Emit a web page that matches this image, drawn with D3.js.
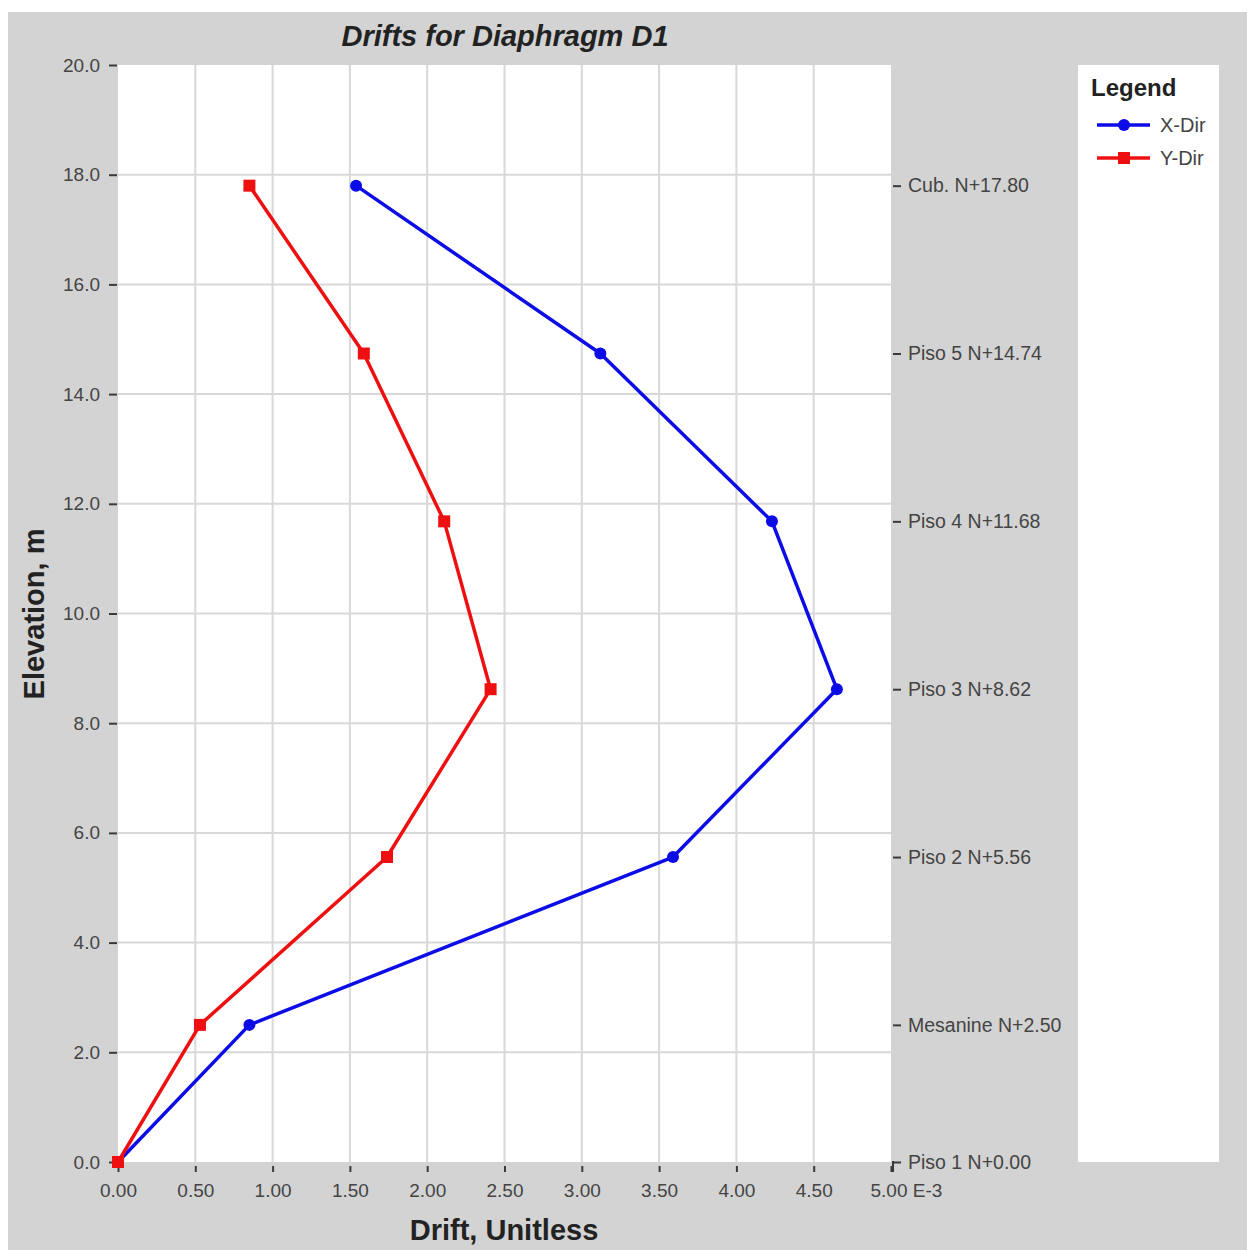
<!DOCTYPE html>
<html>
<head>
<meta charset="utf-8">
<script src="https://cdn.jsdelivr.net/npm/d3@7"></script>
<style>
  html, body { margin: 0; padding: 0; background: #ffffff; }
  svg { display: block; font-family: "Liberation Sans", Arial, sans-serif; }
</style>
</head>
<body>
<svg id="chart" width="1251" height="1250"></svg>
<script>
// Story elevations (m) and their names on the right axis
const elevations = [0.00, 2.50, 5.56, 8.62, 11.68, 14.74, 17.80];
const storyLabels = ["Piso 1 N+0.00", "Mesanine N+2.50", "Piso 2 N+5.56", "Piso 3 N+8.62",
                     "Piso 4 N+11.68", "Piso 5 N+14.74", "Cub. N+17.80"];

// Drift values (x 1E-3) per story
const driftX = [0.00, 0.85, 3.59, 4.65, 4.23, 3.12, 1.54];
const driftY = [0.00, 0.53, 1.74, 2.41, 2.11, 1.59, 0.85];

// Axis ticks
const xTicks = [0, 0.5, 1, 1.5, 2, 2.5, 3, 3.5, 4, 4.5, 5];
const yTicks = [0, 2, 4, 6, 8, 10, 12, 14, 16, 18, 20];

const svg = d3.select("#chart");

// Grey panel
svg.append("rect").attr("x", 8).attr("y", 12).attr("width", 1239).attr("height", 1238)
  .attr("fill", "#d3d3d3");

const plot = { left: 118, right: 891, top: 65, bottom: 1162 };
const x = d3.scaleLinear().domain([0, 5]).range([plot.left, plot.right]);
const y = d3.scaleLinear().domain([0, 20]).range([plot.bottom, plot.top]);

// Plot area
svg.append("rect").attr("x", plot.left).attr("y", plot.top)
  .attr("width", plot.right - plot.left).attr("height", plot.bottom - plot.top)
  .attr("fill", "#ffffff");

// Grid
const grid = svg.append("g").attr("stroke", "#d8d8d8").attr("stroke-width", 2);
grid.selectAll("line.v").data(xTicks.slice(1, -1)).join("line")
  .attr("x1", d => x(d)).attr("x2", d => x(d))
  .attr("y1", plot.top).attr("y2", plot.bottom);
grid.selectAll("line.h").data(yTicks.slice(1, -1)).join("line")
  .attr("x1", plot.left).attr("x2", plot.right)
  .attr("y1", d => y(d)).attr("y2", d => y(d));

const tickColor = "#3a3a3a";
const labelColor = "#444444";
const tickFont = "19px";

// Left axis
const yAxis = d3.axisLeft(y).tickValues(yTicks).tickFormat(d3.format(".1f"))
  .tickSize(8).tickPadding(9);
const gy = svg.append("g").attr("transform", `translate(${plot.left - 1},0)`).call(yAxis);
gy.select(".domain").remove();
gy.selectAll(".tick line").attr("stroke", tickColor).attr("stroke-width", 2);
gy.selectAll(".tick text").attr("fill", labelColor).style("font-size", tickFont);

// Bottom axis
const xAxis = d3.axisBottom(x).tickValues(xTicks)
  .tickFormat(d => d === 5 ? "5.00 E-3" : d3.format(".2f")(d))
  .tickSize(6).tickPadding(12);
const gx = svg.append("g").attr("transform", `translate(0,${plot.bottom + 4})`).call(xAxis);
gx.select(".domain").remove();
gx.selectAll(".tick line").attr("stroke", tickColor).attr("stroke-width", 2);
gx.selectAll(".tick text").attr("fill", labelColor).style("font-size", tickFont);
gx.selectAll(".tick").filter(d => d === 5).select("text")
  .attr("text-anchor", "start").attr("dx", "-21px");

// Right axis with story names
const yAxisR = d3.axisRight(y).tickValues(elevations)
  .tickFormat((d, i) => storyLabels[i]).tickSize(8).tickPadding(7);
const gr = svg.append("g").attr("transform", `translate(${plot.right + 2},0)`).call(yAxisR);
gr.select(".domain").remove();
gr.selectAll(".tick line").attr("stroke", tickColor).attr("stroke-width", 2);
gr.selectAll(".tick text").attr("fill", labelColor).style("font-size", "19.5px");
gr.append("line").attr("x1", 0).attr("x2", 0)
  .attr("y1", y(0) - 1).attr("y2", y(0) + 10)
  .attr("stroke", tickColor).attr("stroke-width", 2);

// Titles
svg.append("text").attr("x", 505).attr("y", 46).attr("text-anchor", "middle")
  .style("font-size", "29px").style("font-weight", "bold").style("font-style", "italic")
  .attr("fill", "#222").text("Drifts for Diaphragm D1");
svg.append("text").attr("x", 504).attr("y", 1240).attr("text-anchor", "middle")
  .style("font-size", "29px").style("font-weight", "bold")
  .attr("fill", "#222").text("Drift, Unitless");
svg.append("text").attr("transform", "translate(44,614) rotate(-90)").attr("text-anchor", "middle")
  .style("font-size", "29px").style("font-weight", "bold")
  .attr("fill", "#222").text("Elevation, m");

// Series
const series = [
  { name: "X-Dir", values: driftX, color: "#0c0ce6", shape: "circle" },
  { name: "Y-Dir", values: driftY, color: "#ee1010", shape: "square" }
];
const line = d3.line().x(d => x(d[0])).y(d => y(d[1]));

series.forEach(s => {
  const pts = s.values.map((v, i) => [v, elevations[i]]);
  svg.append("path").datum(pts).attr("d", line)
    .attr("fill", "none").attr("stroke", s.color).attr("stroke-width", 3.5)
    .attr("stroke-linejoin", "round");
  if (s.shape === "circle") {
    svg.selectAll(null).data(pts).join("circle")
      .attr("cx", d => x(d[0])).attr("cy", d => y(d[1])).attr("r", 6)
      .attr("fill", s.color);
  } else {
    svg.selectAll(null).data(pts).join("rect")
      .attr("x", d => x(d[0]) - 6).attr("y", d => y(d[1]) - 6)
      .attr("width", 12).attr("height", 12).attr("fill", s.color);
  }
});

// Legend
const lg = svg.append("g");
lg.append("rect").attr("x", 1078).attr("y", 65).attr("width", 141).attr("height", 1097)
  .attr("fill", "#ffffff");
lg.append("text").attr("x", 1091).attr("y", 96)
  .style("font-size", "24px").style("font-weight", "bold").attr("fill", "#222").text("Legend");
series.forEach((s, i) => {
  const ly = 125 + i * 33;
  lg.append("line").attr("x1", 1097).attr("x2", 1150).attr("y1", ly).attr("y2", ly)
    .attr("stroke", s.color).attr("stroke-width", 3.5);
  if (s.shape === "circle") {
    lg.append("circle").attr("cx", 1124).attr("cy", ly).attr("r", 6).attr("fill", s.color);
  } else {
    lg.append("rect").attr("x", 1118).attr("y", ly - 6).attr("width", 12).attr("height", 12)
      .attr("fill", s.color);
  }
  lg.append("text").attr("x", 1160).attr("y", ly + 7).style("font-size", "20px")
    .attr("fill", labelColor).text(s.name);
});
</script>
</body>
</html>
